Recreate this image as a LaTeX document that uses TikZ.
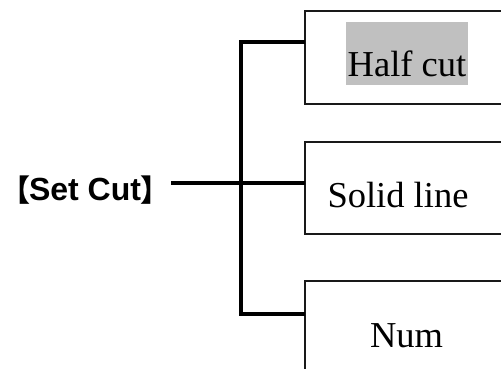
\documentclass[tikz,border=0pt]{standalone}
\usepackage{fontspec}
\setmainfont{Liberation Serif}
\newfontfamily\arialf{Liberation Sans}
\newfontfamily\cjk{Noto Sans CJK SC}
\definecolor{hl}{HTML}{C0C0C0}
\begin{document}
\begin{tikzpicture}[x=1pt,y=-1pt,
  box/.style={draw=black!90,line width=1.3pt,anchor=north west,minimum width=230pt,inner sep=0pt},
  bus/.style={line width=4pt,line cap=butt,line join=miter},
  lbl/.style={font=\fontsize{36.5}{40}\selectfont,anchor=base,inner sep=0pt},
  brk/.style={font=\fontsize{30}{34}\selectfont\cjk\bfseries,anchor=base west,inner sep=0pt},
  every node/.style={outer sep=0pt}]
\useasboundingbox (0,0) rectangle (501,369);
\clip (0,0) rectangle (501,369);
\fill[white] (0,0) rectangle (501,369);
\node[box,minimum height=93pt] (b1) at (305,11) {};
\node[box,minimum height=92pt] (b2) at (305,142) {};
\node[box,minimum height=120pt] (b3) at (305,281) {};
\fill[hl] (346,22) rectangle (468,85);
\node[lbl] (t1) at (407,77) {Half cut};
\node[lbl] (t2) at (398,207) {Solid line};
\node[lbl] (t3) at (406.5,347) {Num};
\node[anchor=base west,inner sep=0pt,font=\fontsize{32}{34}\selectfont\arialf\bfseries] (sc) at (29,200) {Set Cut};
\node[brk] (lb) at (0.5,201) {【};
\node[brk] (rb) at (140,201) {】};
\coordinate (s) at (171,183);
\coordinate (j) at (241,183);
\coordinate (tt) at (241,42);
\coordinate (bb) at (241,314);
\draw[bus] (b1.west|-tt) -- (tt) -- (bb) -- (b3.west|-bb);
\draw[bus] (s) -- (j) -- (b2.west|-j);
\end{tikzpicture}
\end{document}
